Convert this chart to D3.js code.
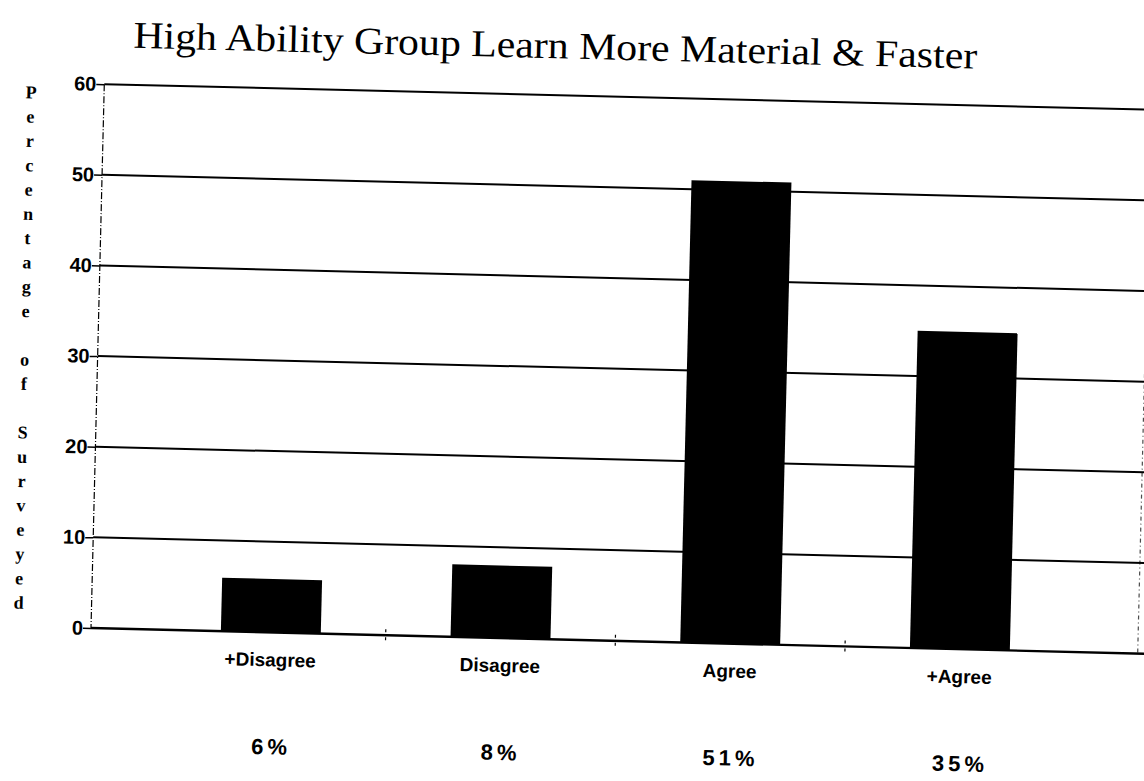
<!DOCTYPE html>
<html>
  <head>
    <title>High Ability Group</title>
    <script src="https://cdn.jsdelivr.net/npm/d3@7"></script>
    <style>
      body { margin: 0; background: #fff; }
    </style>
  </head>
  <body>
    <svg width="1144" height="781" id="mainsvg"></svg>
    <script>
    // data
    const categories = ['+Disagree', 'Disagree', 'Agree', '+Agree'];
    const values = [5.9, 8, 51, 35];
    const pctLabels = ['6%', '8%', '51%', '35%'];
    const yTicks = [0, 10, 20, 30, 40, 50, 60];
    const titleText = 'High Ability Group Learn More Material & Faster';
    const yLabel = 'Percentage of Surveyed';

    let svg = d3.select('#mainsvg');
    svg.append('rect').attr('width', 1144).attr('height', 781).attr('fill', '#fff');

    const plotLeft = 91, plotTop = 84, plotBottom = 628, plotRight = 1141;

    // the scan is tilted a little clockwise
    let g = svg.append('g').attr('transform', `rotate(1.4, ${plotLeft}, ${plotBottom})`);

    let y = d3.scaleLinear().domain([0, 60]).range([plotBottom, plotTop]);
    let x = d3.scaleBand().domain(categories).range([156, 1075])
        .paddingInner(0.565).paddingOuter(0.2825);

    // title
    g.append('text')
        .attr('x', 541).attr('y', 47)
        .attr('text-anchor', 'middle')
        .attr('font-family', 'Liberation Serif, Times New Roman, serif')
        .attr('font-size', 38)
        .attr('textLength', 844)
        .attr('lengthAdjust', 'spacingAndGlyphs')
        .text(titleText);

    // horizontal grid lines
    g.selectAll('line.grid').data(yTicks).join('line')
        .attr('class', 'grid')
        .attr('x1', plotLeft).attr('x2', plotRight + 10)
        .attr('y1', d => y(d)).attr('y2', d => y(d))
        .attr('stroke', '#000')
        .attr('stroke-width', d => d === 0 ? 2.4 : 2);

    // y axis: ticks and labels
    let yAxis = g.append('g')
        .attr('transform', `translate(${plotLeft},0)`)
        .call(d3.axisLeft(y).tickValues(yTicks).tickSize(8).tickPadding(0));
    yAxis.select('.domain').remove();
    yAxis.selectAll('.tick line').attr('stroke', '#000').attr('stroke-width', 1.5);
    yAxis.selectAll('.tick text')
        .attr('font-family', 'Liberation Sans, Arial, sans-serif')
        .attr('font-size', 20)
        .attr('font-weight', 'bold')
        .attr('fill', '#000');

    // dash-dot y axis line and right frame
    g.append('line')
        .attr('x1', plotLeft).attr('x2', plotLeft).attr('y1', plotTop).attr('y2', plotBottom)
        .attr('stroke', '#000').attr('stroke-width', 1.2)
        .attr('stroke-dasharray', '7,2,1,2');
    g.append('line')
        .attr('x1', plotRight - 3).attr('x2', plotRight - 3).attr('y1', plotTop).attr('y2', plotBottom)
        .attr('stroke', '#000').attr('stroke-width', 1.2)
        .attr('stroke-dasharray', '4,3,1,3')
        .attr('opacity', 0.7);

    // bars
    g.selectAll('rect.bar').data(values).join('rect')
        .attr('class', 'bar')
        .attr('x', (d, i) => x(categories[i]))
        .attr('width', x.bandwidth())
        .attr('y', d => y(d))
        .attr('height', d => y(0) - y(d))
        .attr('fill', '#000');

    // small ticks between categories on the baseline
    const step = x.step();
    g.selectAll('line.xtick').data(categories.slice(1)).join('line')
        .attr('class', 'xtick')
        .attr('x1', d => x(d) - step * x.paddingInner() / 2)
        .attr('x2', d => x(d) - step * x.paddingInner() / 2)
        .attr('y1', plotBottom - 6).attr('y2', plotBottom + 8)
        .attr('stroke', '#000').attr('stroke-width', 1.2)
        .attr('stroke-dasharray', '3,5');

    // category labels
    g.selectAll('text.cat').data(categories).join('text')
        .attr('class', 'cat')
        .attr('x', d => x(d) + x.bandwidth() / 2)
        .attr('y', plotBottom + 34)
        .attr('text-anchor', 'middle')
        .attr('font-family', 'Liberation Sans, Arial, sans-serif')
        .attr('font-size', 19)
        .attr('font-weight', 'bold')
        .text(d => d);

    // percentage labels
    g.selectAll('text.pct').data(pctLabels).join('text')
        .attr('class', 'pct')
        .attr('x', (d, i) => x(categories[i]) + x.bandwidth() / 2 + 3)
        .attr('y', plotBottom + 122)
        .attr('text-anchor', 'middle')
        .attr('font-family', 'Liberation Sans, Arial, sans-serif')
        .attr('font-size', 22)
        .attr('font-weight', 'bold')
        .attr('letter-spacing', 4)
        .text(d => d);

    // vertical y axis title, one letter per row
    const letters = yLabel.split('');
    g.selectAll('text.ylab').data(letters).join('text')
        .attr('class', 'ylab')
        .attr('x', 18)
        .attr('y', (d, i) => 100 + i * 24.3)
        .attr('text-anchor', 'middle')
        .attr('font-family', 'Liberation Serif, Times New Roman, serif')
        .attr('font-size', 18)
        .attr('font-weight', 'bold')
        .text(d => d);
    </script>
  </body>
</html>
